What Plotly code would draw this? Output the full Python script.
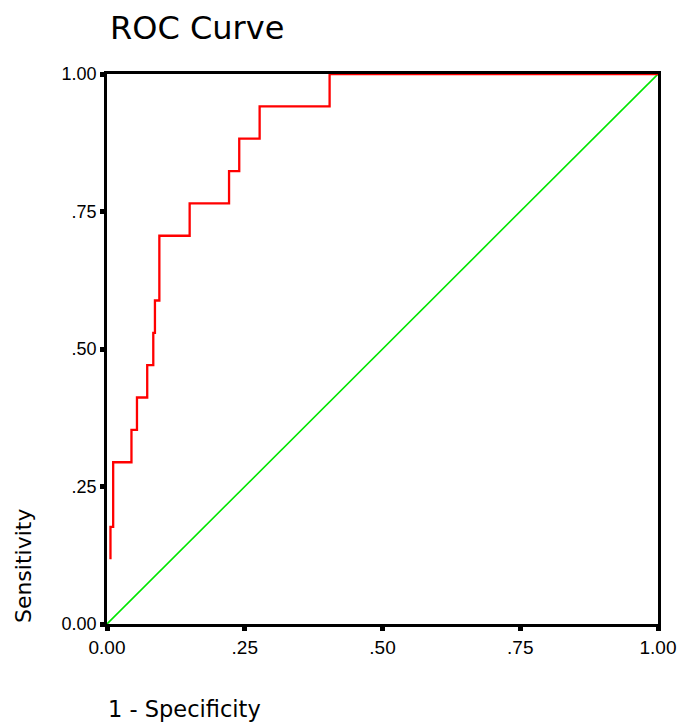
import plotly.graph_objects as go

# ROC curve points (1 - specificity, sensitivity)
fpr = [0.0063, 0.0112, 0.0444, 0.0544, 0.0730, 0.0840, 0.0870, 0.0950,
       0.1500, 0.2215, 0.2400, 0.2770, 0.4040, 1.0000]
tpr = [0.1176, 0.1765, 0.2941, 0.3529, 0.4118, 0.4706, 0.5294, 0.5882,
       0.7059, 0.7647, 0.8235, 0.8824, 0.9412, 1.0000]

ref_x = [0.0, 1.0]
ref_y = [0.0, 1.0]

tick_vals = [0.0, 0.25, 0.5, 0.75, 1.0]
x_tick_text = ["0.00", ".25", ".50", ".75", "1.00"]
y_tick_text = ["0.00", ".25", ".50", ".75", "1.00"]

W, H = 678, 727
L, R, T, B = 106.5, 20, 74, 103
pw, ph = W - L - R, H - T - B

fig = go.Figure()
fig.add_trace(go.Scatter(x=ref_x, y=ref_y, mode="lines",
                         line=dict(color="#00E600", width=1.6),
                         hoverinfo="skip", showlegend=False))
fig.add_trace(go.Scatter(x=fpr, y=tpr, mode="lines",
                         line=dict(color="#FF0000", width=2.3, shape="vh"),
                         showlegend=False))

axis_common = dict(range=[0, 1], showgrid=False, zeroline=False,
                   showline=True, linecolor="black", linewidth=2.5,
                   mirror=True, ticks="outside", ticklen=4, tickwidth=5,
                   tickcolor="black", tickvals=tick_vals, automargin=False)

fig.update_xaxes(**axis_common, ticktext=x_tick_text,
                 tickfont=dict(family="Liberation Sans", size=19, color="black"))
fig.update_yaxes(**axis_common, ticktext=y_tick_text,
                 tickfont=dict(family="Liberation Sans", size=18, color="black"))

def px_x(p):
    return (p - L) / pw

def px_y(p):
    return (H - B - p) / ph

fig.update_layout(
    width=W, height=H, autosize=False,
    margin=dict(l=L, r=R, t=T, b=B, pad=0, autoexpand=False),
    paper_bgcolor="white", plot_bgcolor="white",
    annotations=[
        dict(text="ROC Curve", xref="paper", yref="paper",
             x=px_x(108), y=px_y(28), xanchor="left", yanchor="middle",
             showarrow=False,
             font=dict(family="DejaVu Sans", size=32, color="black")),
        dict(text="Sensitivity", xref="paper", yref="paper",
             x=px_x(22.5), y=px_y(566), xanchor="center", yanchor="middle",
             textangle=-90, showarrow=False,
             font=dict(family="DejaVu Sans", size=22, color="black")),
        dict(text="1 - Specificity", xref="paper", yref="paper",
             x=px_x(105), y=px_y(709), xanchor="left", yanchor="middle",
             showarrow=False,
             font=dict(family="DejaVu Sans", size=22.5, color="black")),
    ],
)

fig.write_html("out.html")
